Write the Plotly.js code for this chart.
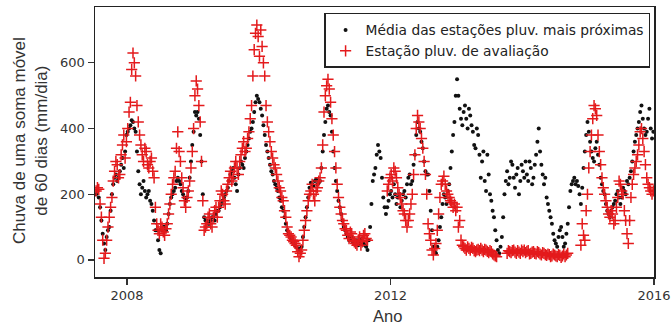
<!DOCTYPE html>
<html>
<head>
<meta charset="utf-8">
<script src="https://cdn.plot.ly/plotly-3.0.1.min.js"></script>
<style>html,body{margin:0;padding:0;background:#fff;}#chart{width:671px;height:326px;}</style>
</head>
<body>
<div id="chart"></div>
<script>
// Sampling grid of the observations (decimal years): main samples and half-step samples
const firstObs2007 = 2007.53;
const firstObsOffset = 0.01;
const obsStep = 0.04;
const halfOffset = 0.02;
const yearsList = [2007, 2008, 2009, 2010, 2011, 2012, 2013, 2014, 2015];

// Média das estações pluv. mais próximas (black dots) - main samples
const blk2007 = [200, 190, 120, 50, 70, 100, 200, 250, 240, 270, 310, 330];
const blk2008 = [390, 410, 420, 390, 270, 200, 240, 190, 210, 170, 120, 90, 30, 90, 100, 110, 170, 200, 220, 250, 230, 200, 180, 210, 300];
const blk2009 = [390, 440, 430, 300, 130, 120, 110, 130, 120, 150, 160, 180, 200, 220, 260, 280, 230, 260, 300, 280, 330, 370, 400, 450, 500];
const blk2010 = [480, 440, 380, 330, 290, 260, 230, 210, 180, 150, 110, 80, 60, 50, 40, 30, 40, 100, 160, 220, 230, 240, 230, 240, 330];
const blk2011 = [420, 470, 440, 330, 240, 180, 140, 100, 80, 60, 70, 50, 60, 50, 65, 45, 30, 100, 240, 280, 350, 310, 190, 140, 180];
const blk2012 = [210, 230, 170, 200, 180, 210, 230, 260, 240, 320, 420, 390, 340, 270, 260, 150, 40, 20, 60, 130, 200, 170, 230, 330, 420];
const blk2013 = [550, 460, 410, 470, 400, 440, 390, 340, 380, 250, 330, 210, 260, 180, 130, 60, 20, 70, 200, 270, 250, 290, 220, 280, 240];
const blk2014 = [270, 300, 240, 280, 250, 320, 400, 290, 230, 190, 150, 110, 60, 40, 90, 70, 50, 110, 210, 240, 230, 225, 170, 280, 380];
const blk2015 = [390, 330, 300, 360, 290, 230, 200, 150, 130, 160, 180, 210, 170, 220, 200, 230, 270, 330, 380, 420, 470, 400, 390, 460, 370];

// black dots - half-step samples
const blkH2007 = [210, 160, 80, 30, 90, 150, 230, 260, 250, 290, 280, 380];
const blkH2008 = [400, 425, 400, 330, 230, 220, 210, 200, 180, 150, 90, 60, 20, 100, 90, 140, 190, 210, 240, 240, 210, 190, 190, 250, 350];
const blkH2009 = [450, 450, 380, 200, 120, 110, 120, 130, 140, 150, 170, 190, 210, 240, 270, 250, 210, 280, 290, 310, 350, 390, 420, 480, 490];
const blkH2010 = [460, 410, 350, 310, 270, 240, 220, 190, 160, 130, 90, 70, 55, 45, 35, 35, 70, 130, 190, 235, 225, 245, 235, 280, 380];
const blkH2011 = [460, 450, 390, 280, 210, 160, 120, 90, 70, 65, 55, 55, 45, 60, 50, 40, 60, 170, 260, 320, 330, 250, 160, 160, 200];
const blkH2012 = [190, 200, 190, 160, 200, 190, 250, 230, 290, 380, 400, 360, 300, 260, 210, 90, 25, 40, 100, 170, 190, 210, 280, 380, 500];
const blkH2013 = [500, 430, 450, 430, 460, 410, 350, 400, 320, 300, 240, 320, 200, 150, 90, 30, 40, 130, 240, 230, 300, 250, 260, 200, 290];
const blkH2014 = [250, 260, 300, 230, 290, 360, 330, 260, 250, 170, 130, 80, 50, 70, 100, 40, 80, 160, 230, 250, 240, 200, 220, 330, 420];
const blkH2015 = [360, 310, 340, 320, 250, 210, 170, 140, 150, 170, 200, 190, 190, 210, 240, 250, 300, 360, 400, 450, 430, 380, 430, 400, 390];

// Estação pluv. de avaliação (red crosses) - main samples; null = no data
const red2007 = [210, 215, 130, 5, 60, 130, 190, 270, 290, 260, 350, 310];
const red2008 = [400, 480, 630, 560, 420, 350, 300, 330, 280, 310, 250, 110, 80, 100, 75, 110, 170, 230, 270, 390, 300, 220, 160, 210, 280];
const red2009 = [400, 545, 470, 300, 90, 110, 140, 100, 150, 130, 180, 200, 170, 230, 270, 250, 300, 260, 320, 360, 340, 390, 470, 640, 715];
const red2010 = [620, 650, 560, 420, 360, 310, 280, 240, 210, 180, 130, 80, 70, 55, 45, 10, 30, 90, 150, 200, 230, 180, 220, 250, 350];
const red2011 = [500, 550, 480, 380, 280, 190, 140, 110, 90, 65, 80, 55, 45, 70, 55, 80, 60, null, null, null, null, null, null, null, 230];
const red2012 = [260, 280, 250, 200, 170, 140, 100, 140, 200, 320, 440, 400, 340, 260, 110, 60, 15, 50, 140, 230, 255, 210, 190, 175, 170];
const red2013 = [160, 120, 45, 35, 40, 30, 35, 25, 32, 35, 25, 30, 22, 25, 15, 10, null, null, null, 20, 25, 28, 24, 28, 20];
const red2014 = [25, 22, 28, 20, 25, 18, 22, 15, 20, 14, 16, 12, 15, 10, 14, 12, 10, 20, null, null, null, null, 45, 75, 150];
const red2015 = [280, 380, 470, 440, 330, 250, 200, 160, 130, 140, 120, 190, 230, 200, 120, 50, 190, 260, 300, 350, 400, 330, 250, 220, 200];

// red crosses - half-step samples
const redH2007 = [220, 170, 60, 20, 100, 160, 240, 300, 250, 320, 380, 360];
const redH2008 = [450, 580, 600, 470, 380, 320, 340, 290, 300, 270, 160, 90, 110, 85, 95, 140, 200, 250, 340, 330, 250, 180, 190, 240, 330];
const redH2009 = [500, 520, 420, 180, 100, 130, 110, 130, 160, 160, 210, 180, 210, 250, 240, 280, 280, 300, 340, 330, 370, 430, 560, 690, 680];
const redH2010 = [700, 600, 470, 390, 330, 290, 260, 220, 190, 150, 100, 75, 60, 50, 25, 20, 60, 120, 180, 210, 200, 210, 240, 280, 450];
const redH2011 = [530, 520, 430, 330, 230, 160, 120, 95, 75, 85, 60, 50, 60, 45, 75, 65, null, null, null, null, null, null, null, 210, 250];
const redH2012 = [240, 270, 220, 190, 150, 120, 120, 170, 260, 400, 420, 370, 300, 200, 80, 30, 35, 90, 190, 240, 230, 200, 180, 160, 150];
const redH2013 = [100, 60, 40, 30, 35, 38, 28, 30, 28, 30, 32, 26, 28, 18, 12, null, null, null, null, 28, 22, 30, 20, 24, 30];
const redH2014 = [30, 26, 18, 24, 20, 25, 18, 22, 16, 18, 10, 18, 12, 16, 8, 18, 15, null, null, null, null, null, 110, 60, 200];
const redH2015 = [330, 430, 460, 380, 290, 220, 180, 140, 150, 110, 160, 240, 210, 150, 80, 120, 230, 280, 320, 390, 370, 290, 230, 210, 210];

const yTicks = [0, 200, 400, 600];
const xTicks = [2008, 2012, 2016];
const nameBlack = 'Média das estações pluv. mais próximas';
const nameRed = 'Estação pluv. de avaliação';

function flatten(mainByYear, halfByYear) {
  const pts = [];
  yearsList.forEach((yr, j) => {
    const y0 = yr === 2007 ? firstObs2007 : yr + firstObsOffset;
    mainByYear[j].forEach((v, k) => pts.push([y0 + k * obsStep, v]));
    halfByYear[j].forEach((v, k) => pts.push([y0 + k * obsStep + halfOffset, v]));
  });
  pts.sort((a, b) => a[0] - b[0]);
  return {xs: pts.map(p => +p[0].toFixed(3)), ys: pts.map(p => p[1])};
}
const B = flatten([blk2007, blk2008, blk2009, blk2010, blk2011, blk2012, blk2013, blk2014, blk2015],
                  [blkH2007, blkH2008, blkH2009, blkH2010, blkH2011, blkH2012, blkH2013, blkH2014, blkH2015]);
const R = flatten([red2007, red2008, red2009, red2010, red2011, red2012, red2013, red2014, red2015],
                  [redH2007, redH2008, redH2009, redH2010, redH2011, redH2012, redH2013, redH2014, redH2015]);

const red = '#e41a1c';
const traces = [
  {type: 'scatter', mode: 'markers', x: B.xs, y: B.ys, name: nameBlack,
   marker: {symbol: 'circle', size: 4, color: '#111'}},
  {type: 'scatter', mode: 'markers', x: R.xs, y: R.ys, name: nameRed,
   marker: {symbol: 'cross-thin', size: 8, color: red, line: {width: 1.5, color: red}}}
];

const axisCommon = {
  ticks: 'outside', ticklen: 6, tickwidth: 1.2, tickcolor: '#333',
  showline: true, mirror: true, linecolor: '#222', linewidth: 1.5,
  showgrid: false, zeroline: false,
  tickfont: {family: 'DejaVu Sans', size: 13, color: '#333'}
};

const layout = {
  width: 671, height: 326,
  margin: {l: 95, r: 17, t: 7, b: 49},
  paper_bgcolor: '#fff', plot_bgcolor: '#fff',
  showlegend: true,
  xaxis: Object.assign({}, axisCommon, {range: [2007.513, 2016.0], tickmode: 'array', tickvals: xTicks, ticktext: xTicks.map(String)}),
  yaxis: Object.assign({}, axisCommon, {range: [-52, 770], tickmode: 'array', tickvals: yTicks, ticktext: yTicks.map(String)}),
  legend: {x: 0.993, y: 0.978, xanchor: 'right', yanchor: 'top',
           bordercolor: '#222', borderwidth: 1.5, bgcolor: '#fff',
           font: {family: 'DejaVu Sans', size: 13.8, color: '#222'}},
  annotations: [
    {text: 'Chuva de uma soma móvel<br>de 60 dias (mm/dia)', xref: 'paper', yref: 'paper',
     x: -0.1163, y: 0.507, xanchor: 'center', yanchor: 'middle', textangle: -90, showarrow: false,
     font: {family: 'Liberation Sans, Arial, sans-serif', size: 17, color: '#333'}},
    {text: 'Ano', xref: 'paper', yref: 'paper', x: 0.524, y: -0.144, xanchor: 'center', yanchor: 'middle',
     showarrow: false, font: {family: 'Liberation Sans, Arial, sans-serif', size: 16.5, color: '#333'}}
  ]
};

Plotly.newPlot('chart', traces, layout, {displayModeBar: false, staticPlot: true});
</script>
</body>
</html>
